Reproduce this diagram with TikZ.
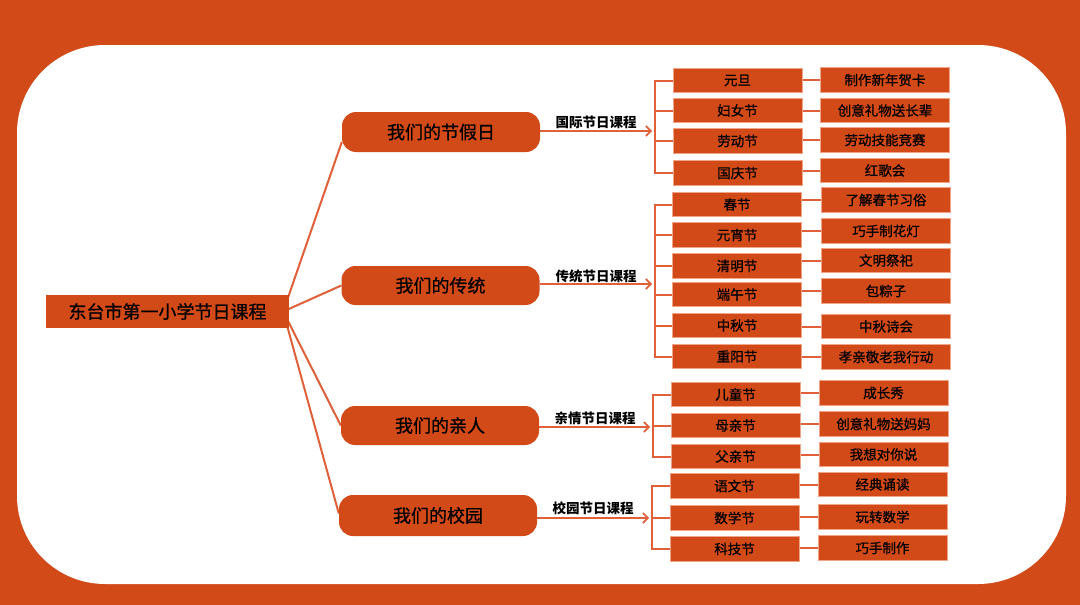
\documentclass[tikz,border=0pt]{standalone}
\usepackage{fontspec}
\setmainfont{Noto Sans CJK SC}
\newfontfamily\cjkmed[FakeBold=0.7]{Noto Sans CJK SC}
\usetikzlibrary{arrows.meta,calc}
\definecolor{orangeF}{HTML}{D24A18}
\definecolor{lineC}{HTML}{E0603A}
\definecolor{edgeC}{HTML}{F2A486}
\pgfdeclarelayer{back}\pgfdeclarelayer{bg}\pgfsetlayers{back,bg,main}
\begin{document}
\begin{tikzpicture}[x=1pt,y=-1pt,
 rootbox/.style={fill=orangeF, minimum width=243pt, minimum height=33pt, inner sep=0pt, font=\cjkmed\fontsize{18}{20}\selectfont},
 topicbox/.style={fill=orangeF, rounded corners=14pt, minimum width=198pt, minimum height=40pt, inner sep=0pt, font=\cjkmed\fontsize{18}{20}\selectfont},
 itembox/.style={fill=orangeF, draw=edgeC, line width=0.6pt, minimum width=129pt, minimum height=24.5pt, inner sep=0pt, font=\cjkmed\fontsize{13.5}{15}\selectfont},
 tag/.style={font=\bfseries\fontsize{13.5}{15}\selectfont, inner sep=0pt},
 link/.style={lineC, line width=2pt},
 arr/.style={link, -{Straight Barb[length=5pt,width=10pt,line width=1.6pt]}},
]
\useasboundingbox (0,0) rectangle (1080,605);
\begin{pgfonlayer}{back}
\fill[orangeF] (0,0) rectangle (1080,605);
\fill[white, rounded corners=88pt] (17,45) rectangle (1066,584);
\end{pgfonlayer}

% root and topics
\node[rootbox] (root) at (167.5,311.5) {东台市第一小学节日课程};
\node[topicbox] (n1) at (441,132) {我们的节假日};
\node[topicbox, minimum height=39pt] (n2) at (440.5,285.5) {我们的传统};
\node[topicbox, minimum height=39pt] (n3) at (440,425.5) {我们的亲人};
\node[topicbox, minimum height=41pt] (n4) at (438,515.5) {我们的校园};

% tags
\node[tag] (t1l) at (596,122) {国际节日课程};
\node[tag] (t2l) at (596,276) {传统节日课程};
\node[tag] (t3l) at (595,418) {亲情节日课程};
\node[tag] (t4l) at (593,508) {校园节日课程};

\coordinate (t1) at (652,131);
\coordinate (t2) at (652,284);
\coordinate (t3) at (650,427);
\coordinate (t4) at (649,518);
\coordinate (b1) at (655,0);
\coordinate (b2) at (655,0);
\coordinate (b3) at (653,0);
\coordinate (b4) at (652,0);

% group 1
\node[itembox] (a1) at (737.5,80.5) {元旦};
\node[itembox] (a2) at (737.5,110.5) {妇女节};
\node[itembox] (a3) at (737.5,141) {劳动节};
\node[itembox] (a4) at (737.5,173) {国庆节};
\node[itembox] (p1) at (885,80) {制作新年贺卡};
\node[itembox] (p2) at (885,110.5) {创意礼物送长辈};
\node[itembox] (p3) at (885,140) {劳动技能竞赛};
\node[itembox] (p4) at (885,170.5) {红歌会};

% group 2
\node[itembox] (c1) at (737,204.5) {春节};
\node[itembox] (c2) at (737,235) {元宵节};
\node[itembox] (c3) at (737,266) {清明节};
\node[itembox] (c4) at (737,294.5) {端午节};
\node[itembox] (c5) at (737,325.5) {中秋节};
\node[itembox] (c6) at (737,356.5) {重阳节};
\node[itembox] (d1) at (886,200) {了解春节习俗};
\node[itembox] (d2) at (886,231) {巧手制花灯};
\node[itembox] (d3) at (886,260.5) {文明祭祀};
\node[itembox] (d4) at (886,291) {包粽子};
\node[itembox] (d5) at (886,326.5) {中秋诗会};
\node[itembox] (d6) at (886,357) {孝亲敬老我行动};

% group 3
\node[itembox] (e1) at (735.5,394.5) {儿童节};
\node[itembox] (e2) at (735.5,425.5) {母亲节};
\node[itembox] (e3) at (735.5,456.5) {父亲节};
\node[itembox] (f1) at (883.5,393) {成长秀};
\node[itembox] (f2) at (883.5,424) {创意礼物送妈妈};
\node[itembox] (f3) at (883.5,454.5) {我想对你说};

% group 4
\node[itembox] (g1) at (734.5,486) {语文节};
\node[itembox] (g2) at (734.5,518) {数学节};
\node[itembox] (g3) at (734.5,549) {科技节};
\node[itembox] (h1) at (882.5,484.5) {经典诵读};
\node[itembox] (h2) at (882.5,517) {玩转数学};
\node[itembox] (h3) at (882.5,548) {巧手制作};

\begin{pgfonlayer}{bg}
\coordinate (rs) at ($(root.east)+(-6,0)$);
\draw[link] (rs) -- ($(n1.west)+(0,10)$);
\draw[link] (rs) -- (n2.west);
\draw[link] (rs) -- (n3.west);
\draw[link] (rs) -- ($(n4.west)+(0,-2)$);

\draw[arr] (n1.east |- t1) -- (t1);
\draw[arr] (n2.east |- t2) -- (t2);
\draw[arr] (n3.east |- t3) -- (t3);
\draw[arr] (n4.east |- t4) -- (t4);

\draw[link] (a1.west) -- (b1 |- a1.west) -- (b1 |- a4.west) -- (a4.west);
\foreach \i in {a2,a3} \draw[link] (b1 |- \i.west) -- (\i.west);
\draw[link] (c1.west) -- (b2 |- c1.west) -- (b2 |- c6.west) -- (c6.west);
\foreach \i in {c2,c3,c4,c5} \draw[link] (b2 |- \i.west) -- (\i.west);
\draw[link] (e1.west) -- (b3 |- e1.west) -- (b3 |- e3.west) -- (e3.west);
\draw[link] (b3 |- e2.west) -- (e2.west);
\draw[link] (g1.west) -- (b4 |- g1.west) -- (b4 |- g3.west) -- (g3.west);
\draw[link] (b4 |- g2.west) -- (g2.west);

\foreach \l/\r in {a1/p1,a2/p2,a3/p3,a4/p4,c1/d1,c2/d2,c3/d3,c4/d4,c5/d5,c6/d6,e1/f1,e2/f2,e3/f3,g1/h1,g2/h2,g3/h3}
  \draw[link] (\l.east |- \r.west) -- (\r.west);
\end{pgfonlayer}
\end{tikzpicture}
\end{document}
